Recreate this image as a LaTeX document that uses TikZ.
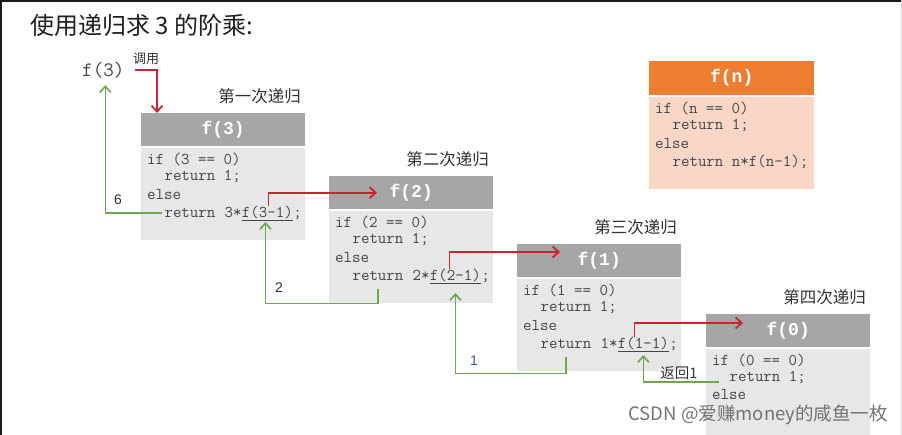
\documentclass[tikz,border=0pt]{standalone}
\usepackage{fontspec}
\setmainfont{Liberation Sans}
\newfontfamily\cjk{Noto Sans CJK SC}
\newfontfamily\hdrmono{Liberation Mono}
\usetikzlibrary{arrows.meta,calc}
\definecolor{hdrgray}{RGB}{166,166,166}
\definecolor{bodygray}{RGB}{231,231,231}
\definecolor{hdrorange}{RGB}{237,125,49}
\definecolor{bodyorange}{RGB}{249,214,198}
\definecolor{codegray}{RGB}{70,70,70}
\definecolor{labgray}{RGB}{50,50,50}
\definecolor{callred}{RGB}{200,38,45}
\definecolor{retgreen}{RGB}{112,165,80}
\definecolor{numblue}{RGB}{50,90,160}
\definecolor{wmgray}{RGB}{115,115,115}
\tikzset{
 hdr/.style={fill=hdrgray, minimum width=164pt, minimum height=33pt, anchor=north west, inner sep=0pt, text=white, font=\hdrmono\bfseries\fontsize{18}{18}\selectfont},
 bodybox/.style={fill=bodygray, minimum width=164pt, minimum height=92pt, anchor=north west, inner sep=0pt},
 code/.style={anchor=west, inner sep=0pt, text=codegray, font=\ttfamily\fontsize{16.5}{16.5}\selectfont},
 codex/.style={anchor=base west, inner sep=0pt, text=codegray, font=\ttfamily\fontsize{16.5}{16.5}\selectfont},
 steplbl/.style={anchor=east, inner sep=0pt, text=labgray, font=\cjk\fontsize{16.5}{16.5}\selectfont},
 redarr/.style={draw=callred, line width=1.8pt, -{Straight Barb[length=6pt,width=11pt]}},
 grnarr/.style={draw=retgreen, line width=1.6pt, -{Straight Barb[length=6pt,width=11pt]}},
 numlbl/.style={inner sep=0pt, text=labgray, font=\fontsize{14}{14}\selectfont},
}
\newcommand\recstep[4]{%
\begin{scope}[shift={#2}]
\node[hdr] (h#1) at (0,0) {f(#3)};
\node[bodybox] (b#1) at (0,35) {};
\node[code] (a#1) at (6,46) {if (#3 == 0)};
\node[code] (ra#1) at (23.3,64) {return 1;};
\node[code] (e#1) at (6,82) {else};
\node[code] (r#1) at (23.3,100) {return};
\node[codex] (m#1) at ([xshift=8.66pt]r#1.base east) {#3*};
\node[codex] (f#1) at (m#1.base east) {\underline{f(#3-1)}};
\node[codex] (s#1) at (f#1.base east) {;};
\node[steplbl] (l#1) at (160,-16.5) {#4};
\end{scope}}
\begin{document}
\begin{tikzpicture}[x=1pt,y=-1pt]
\useasboundingbox (0,0) rectangle (902,435);
\fill[white] (0,0) rectangle (902,435);
% title
\node[anchor=west, inner sep=0pt, text=black!88, font=\cjk\fontsize{24}{24}\selectfont] (title) at (30,25) {使用递归求 3 的阶乘:};
% f(n) definition box
\node[hdr, fill=hdrorange, minimum width=165pt, minimum height=34pt] (hn) at (649,61) {f(n)};
\node[bodybox, fill=bodyorange, minimum width=165pt] (bn) at (649,97) {};
\node[code] (an) at (655,108) {if (n == 0)};
\node[code] (ran) at (672.3,126) {return 1;};
\node[code] (en) at (655,144) {else};
\node[code] (rn) at (672.3,162) {return n*f(n-1);};
% recursion steps
\recstep{1}{(141,113)}{3}{第一次递归}
\recstep{2}{(329,176)}{2}{第二次递归}
\recstep{3}{(517,244)}{1}{第三次递归}
% fourth step (partly hidden)
\node[hdr] (h4) at (706,314) {f(0)};
\node[bodybox, minimum height=86pt] (b4) at (706,349) {};
\node[code] (a4) at (712,360) {if (0 == 0)};
\node[code] (ra4) at (729.3,378) {return 1;};
\node[code] (e4) at (712,395) {else};
\node[steplbl] (l4) at (866,297) {第四次递归};
% initial call
\node[anchor=west, inner sep=0pt, text=codegray, font=\ttfamily\fontsize{20.5}{20.5}\selectfont] (top) at (82,70) {f(3)};
\coordinate (callstart) at (135,70);
\node[inner sep=0pt, text=labgray, font=\cjk\fontsize{13}{13}\selectfont] (calllbl) at (146,59) {调用};
% calls (red)
\draw[redarr] (callstart) -| ([xshift=16pt]h1.north west);
\draw[redarr] ([xshift=1pt]f1.north) |- ([xshift=48pt]h2.west);
\draw[redarr] ([xshift=-6pt]f2.north) |- ([xshift=43pt,yshift=-8pt]h3.north west);
\draw[redarr] ([xshift=-9pt]f3.north) |- ([xshift=37pt,yshift=-9pt]h4.north west);
% returns (green)
\draw[grnarr] ([xshift=-2pt]r1.west) -| ([xshift=2pt,yshift=-7pt]top.south);
\draw[grnarr] ([yshift=-8pt]r2.south) |- ([xshift=-2pt]f1.south |- b2.south) -- ([xshift=-2pt,yshift=-1pt]f1.south);
\draw[grnarr] ([yshift=-8pt]r3.south) |- ([yshift=-2pt]f2.south |- b3.south) -- ([yshift=-9pt]f2.south);
\draw[grnarr] ([xshift=-10pt,yshift=-4pt]ra4.west) -| ([yshift=-3pt]f3.south);
% return values
\node[numlbl] (v6) at (118,200) {6};
\node[numlbl] (v2) at (279,288) {2};
\node[numlbl, text=numblue] (v1) at (474,361) {1};
\node[inner sep=0pt, text=labgray, font=\cjk\fontsize{14.5}{14.5}\selectfont] (v0) at (679,373) {返回1};
% watermark
\node[anchor=east, inner sep=0pt, text=wmgray, font=\cjk\fontsize{18.5}{18.5}\selectfont] (wm) at (888,415) {CSDN @爱赚money的咸鱼一枚};
% frame edges
\draw[line width=2pt, black!90] (0,1) -- (902,1);
\draw[line width=2pt, black!90] (1,0) -- (1,435);
\draw[line width=1pt, black!15] (901,0) -- (901,435);
\end{tikzpicture}
\end{document}
